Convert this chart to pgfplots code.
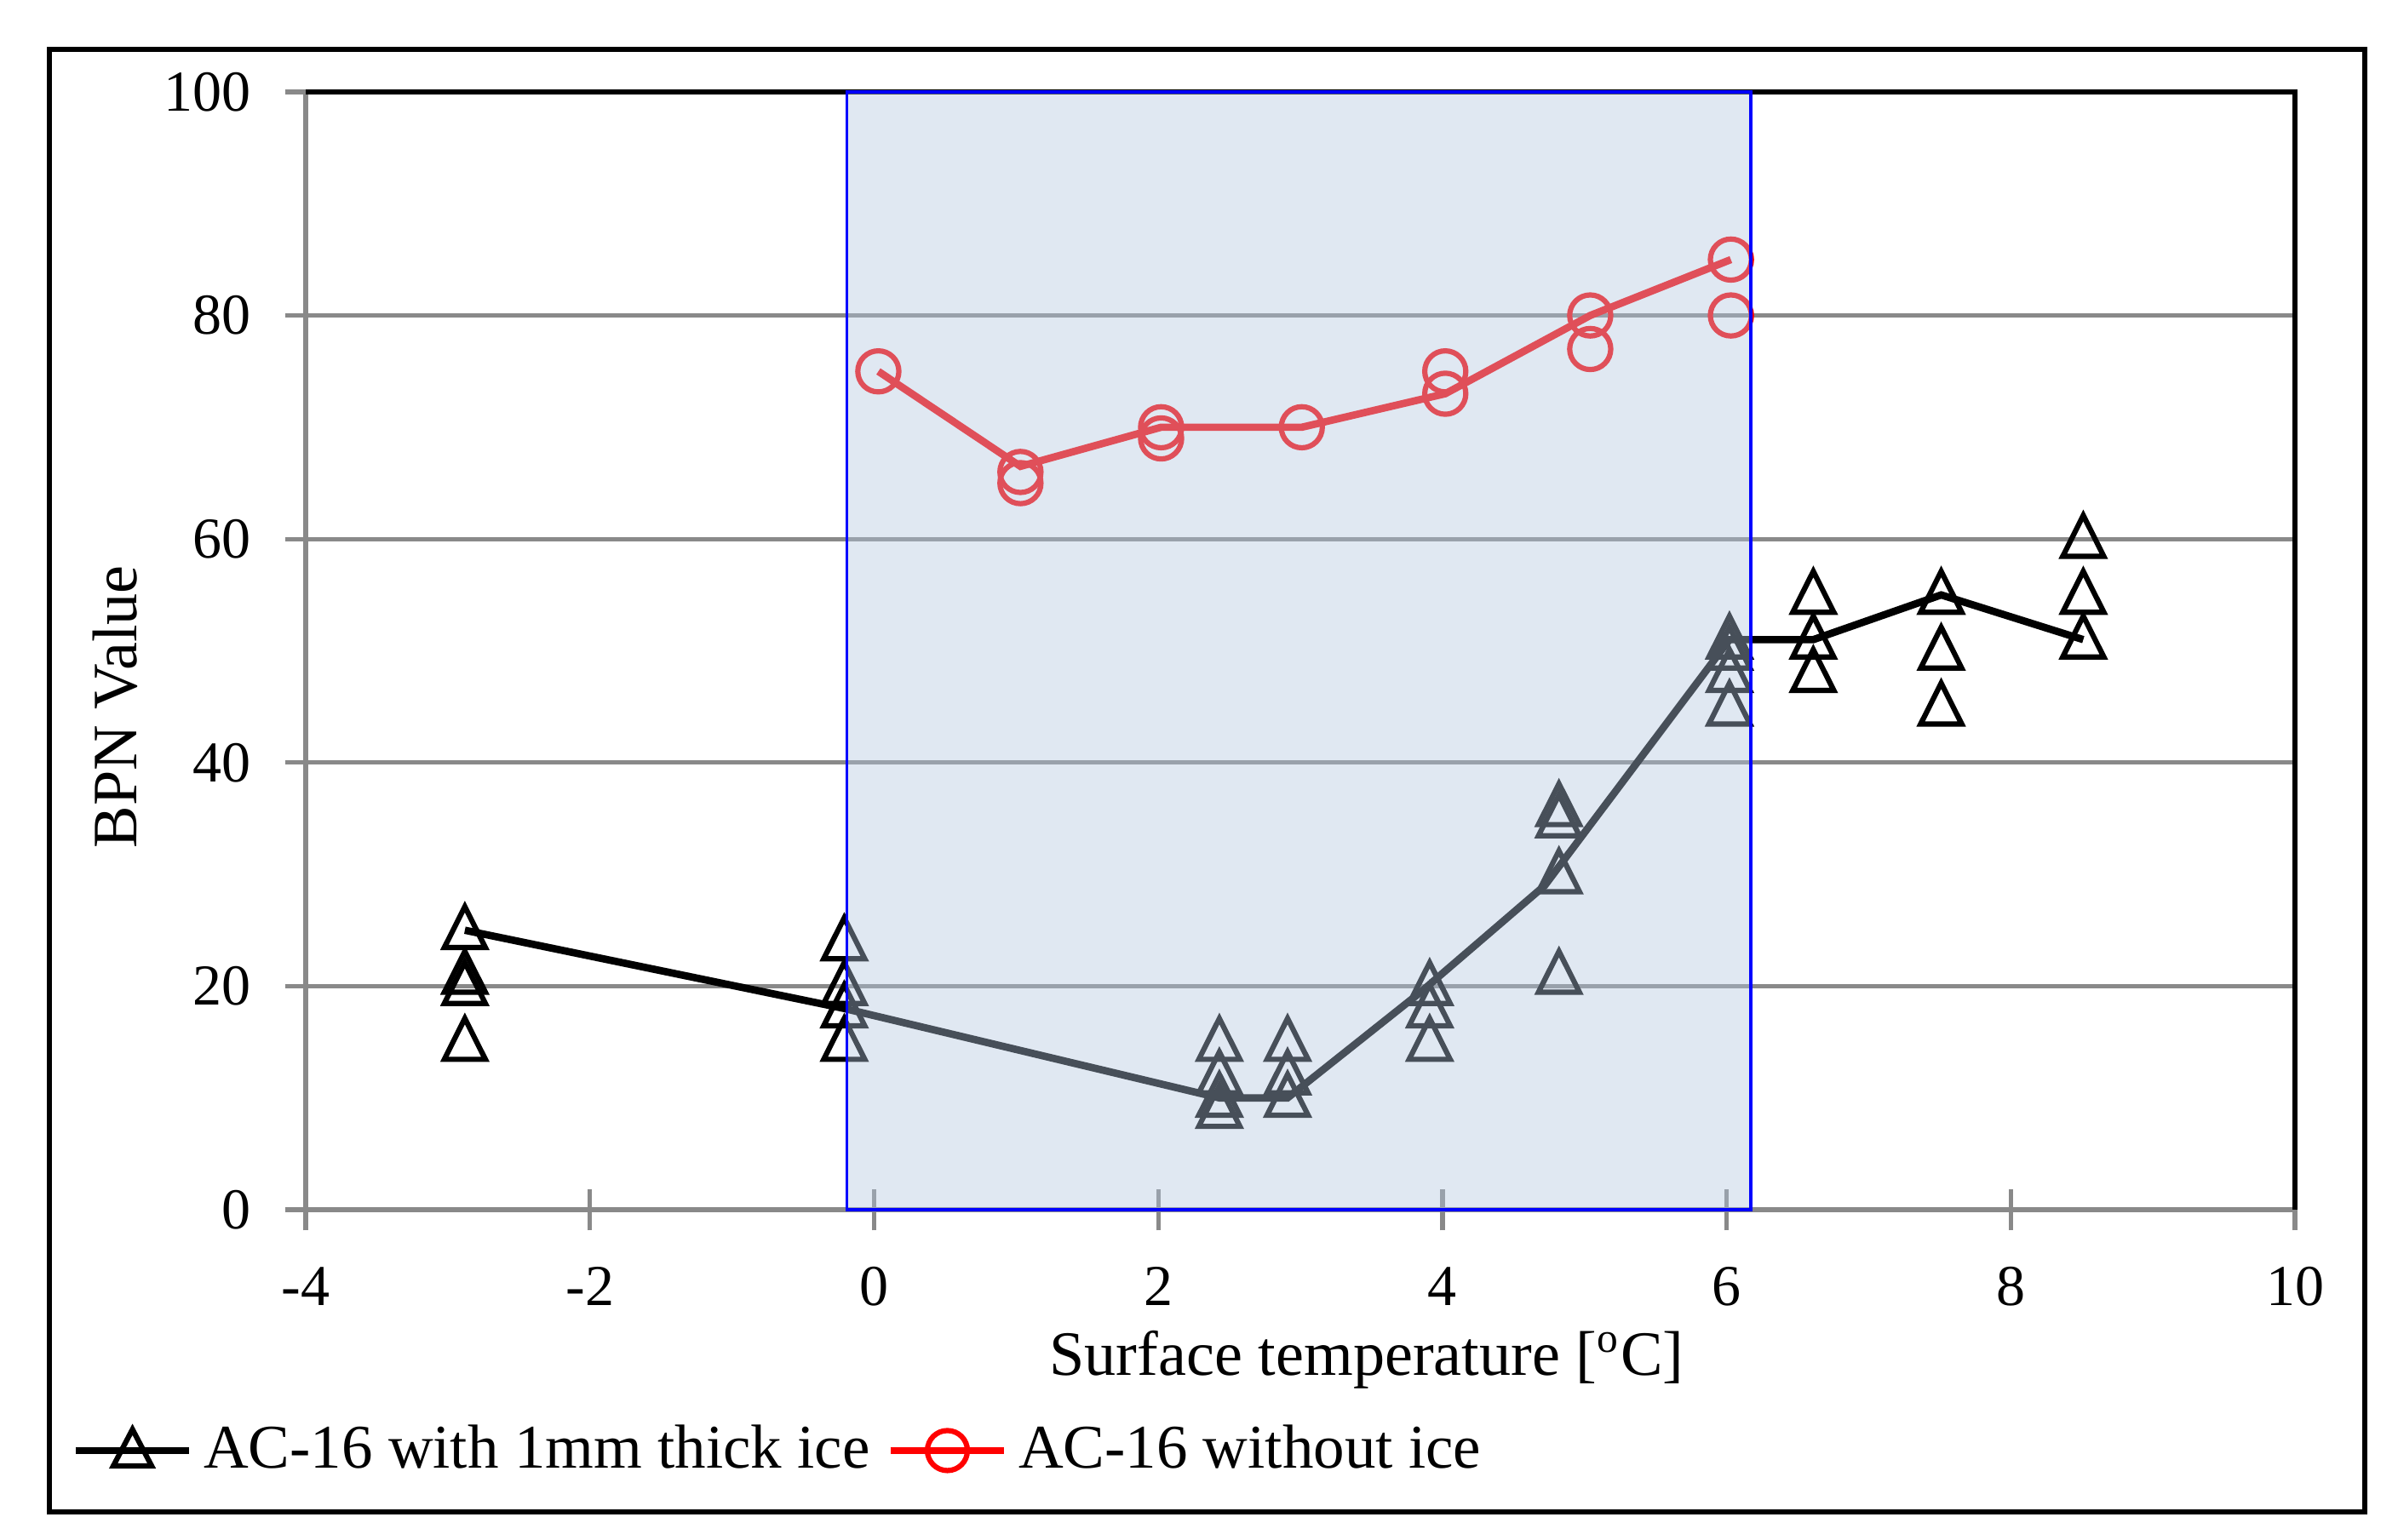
\documentclass[border=0pt]{standalone}
\usepackage{pgfplots}
\pgfplotsset{compat=1.18}
\usepackage{fontspec}
\setmainfont{Liberation Serif}
\definecolor{gridgray}{HTML}{898989}
\definecolor{shadecol}{RGB}{178,198,223}

\begin{document}
\begin{tikzpicture}
\path[use as bounding box] (-2.0398,-2.2045) rectangle (13.9602,8.0738);
\draw[line width=0.9pt] (-1.7102,-2.0170) rectangle (13.7386,7.7441);
\begin{axis}[
  clip mode=individual,
  at={(0,0)}, anchor=south west,
  scale only axis, width=13.2727cm, height=7.4602cm,
  xmin=-4, xmax=10, ymin=0, ymax=100,
  xtick={-4,-2,...,10}, ytick={0,20,...,100},
  axis x line*=bottom, axis y line*=left,
  axis line style={gridgray, line width=0.85pt, -},
  ymajorgrids, grid style={gridgray, line width=0.8pt},
  tick align=center, major tick length=7.9pt,
  tick style={gridgray, line width=0.85pt},
  /pgf/number format/assume math mode=true,
  ticklabel style={font=\fontsize{11}{13}\selectfont},
  yticklabel style={xshift=-2.9pt},
  xticklabel style={yshift=-3.4pt},
  clip=false,
  xlabel={Surface temperature [\textsuperscript{o}C]},
  xlabel style={at={(axis description cs:0.5334,-0.134)}, anchor=center, font=\fontsize{12}{14}\selectfont},
  ylabel={BPN Value},
  ylabel style={at={(axis description cs:-0.0959,0.45)}, anchor=center, font=\fontsize{12}{14}\selectfont},
  legend style={at={(-0.126,-0.2155)}, anchor=west, draw=none, fill=none,
    font=\fontsize{11.8}{14}\selectfont, legend columns=2,
    /tikz/every even column/.append style={column sep=1.2pt}},
  legend image code/.code={\draw[mark repeat=2,mark phase=2,#1] plot coordinates {(0pt,0pt) (10.8pt,0pt) (21.6pt,0pt)};},
]
\draw[black, line width=0.85pt] (axis cs:-4,100) -- (axis cs:10,100) -- (axis cs:10,0);

% AC-16 with 1mm thick ice: connecting line
\addplot[black, line width=1.4pt, forget plot] coordinates {
  (-2.88,25) (-0.21,18) (2.43,10) (2.91,10) (3.85,19.5) (4.72,29) (6.02,51) (6.61,51) (7.51,55) (8.51,51)
};
% AC-16 with 1mm thick ice: measurements
\addplot[only marks, mark=triangle, mark size=4.5pt, mark options={black, line width=1pt, yshift=-0.7pt, yscale=1.15}, forget plot] coordinates {
  (-2.88,25) (-2.88,21) (-2.88,20) (-2.88,15)
  (-0.21,24) (-0.21,20) (-0.21,18) (-0.21,15)
  (2.43,15) (2.43,12) (2.43,10) (2.43,9)
  (2.91,15) (2.91,12) (2.91,10)
  (3.91,20) (3.91,18) (3.91,15)
  (4.82,36) (4.82,35) (4.82,30) (4.82,21)
  (6.02,51) (6.02,50) (6.02,48) (6.02,45)
  (6.61,55) (6.61,51) (6.61,48)
  (7.51,55) (7.51,50) (7.51,45)
  (8.51,60) (8.51,55) (8.51,51)
};
% AC-16 without ice: connecting line
\addplot[red, line width=1.4pt, forget plot] coordinates {
  (0.03,75) (1.03,66.5) (2.02,70) (3.01,70) (4.02,73) (5.04,80) (6.03,85)
};
% AC-16 without ice: measurements
\addplot[only marks, mark=o, mark size=3.9pt, mark options={red, line width=1pt}, forget plot] coordinates {
  (0.03,75)
  (1.03,66) (1.03,65)
  (2.02,70) (2.02,69)
  (3.01,70)
  (4.02,75) (4.02,73)
  (5.04,80) (5.04,77)
  (6.03,85) (6.03,80)
};

\fill[shadecol, fill opacity=0.4] (axis cs:-0.19,0) rectangle (axis cs:6.17,100);
\draw[blue, line width=0.5pt] (axis cs:-0.19,0) rectangle (axis cs:6.17,100);

\addlegendimage{black, line width=1.4pt, mark=triangle, mark size=4.2pt, mark options={line width=1pt, yshift=-0.6pt, yscale=1.1, solid}}
\addlegendentry{AC-16 with 1mm thick ice}
\addlegendimage{red, line width=1.4pt, mark=o, mark size=3.8pt, mark options={line width=1pt}}
\addlegendentry{AC-16 without ice}
\end{axis}
\end{tikzpicture}
\end{document}
